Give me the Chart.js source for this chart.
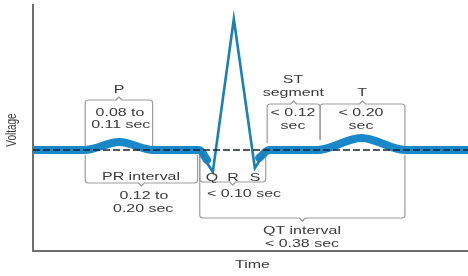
<!DOCTYPE html>
<html>
<head>
<meta charset="utf-8">
<script src="https://cdn.jsdelivr.net/npm/chart.js@4/dist/chart.umd.min.js"></script>
<style>
  html, body { margin: 0; padding: 0; background: #ffffff; }
  #wrap { width: 468px; height: 276px; }
</style>
</head>
<body>
<div id="wrap"><canvas id="c" width="468" height="276"></canvas></div>
<script>
// ---- data (time in s, voltage in arbitrary units, baseline = 0) ----
const atrialTime = [0, 0.071, 0.119, 0.166, 0.229, 0.240];
const atrialVolt = [0, 0, 0.08, 0, 0, -0.10];
const qrsTime = [0.229, 0.248, 0.277, 0.306, 0.322];
const qrsVolt = [0, -0.22, 1.31, -0.18, 0];
const ventTime = [0.312, 0.326, 0.392, 0.453, 0.514, 0.6];
const ventVolt = [-0.08, 0, 0, 0.12, 0, 0];
const baselineTime = [0, 0.6];
const baselineVolt = [0, 0];

// interval brackets (time spans)
const bracketNames = ['P', 'ST', 'T', 'PR', 'QRS', 'QT'];
const bracketStart = [0.072, 0.323, 0.396, 0.072, 0.230, 0.230];
const bracketEnd   = [0.165, 0.396, 0.513, 0.227, 0.321, 0.513];

// labels
const labelTexts = ['P', '0.08 to', '0.11 sec', 'ST', 'segment', 'T', '< 0.12', 'sec', '< 0.20', 'sec',
  'PR interval', '0.12 to', '0.20 sec', 'Q', 'R', 'S', '< 0.10 sec', 'QT interval', '< 0.38 sec'];
const xTitle = 'Time';
const yTitle = 'Voltage';

const pts = (t, v) => t.map((x, i) => ({ x: x, y: v[i] }));

// ---- layout of annotations (in data units) ----
const bracketLayout = {
  P:   { side: 'top',    level: 0.50, reach: [0.04, 0.04] },
  ST:  { side: 'top',    level: 0.46, reach: [0.07, 0.10] },
  T:   { side: 'top',    level: 0.46, reach: [0.10, 0.04] },
  PR:  { side: 'bottom', level: -0.33, reach: [-0.05, -0.05] },
  QRS: { side: 'bottom', level: -0.32, reach: [-0.05, -0.05] },
  QT:  { side: 'bottom', level: -0.68, reach: [-0.05, -0.05] }
};
const labelPos = [
  [0.1186, 0.60], [0.120, 0.37], [0.121, 0.25],
  [0.3586, 0.70], [0.359, 0.57], [0.4538, 0.57],
  [0.3586, 0.37], [0.3586, 0.24], [0.4524, 0.37], [0.4524, 0.24],
  [0.149, -0.27], [0.153, -0.46], [0.152, -0.59],
  [0.2469, -0.28], [0.2759, -0.28], [0.3062, -0.28],
  [0.291, -0.44], [0.371, -0.81], [0.371, -0.94]
];

const STRETCH = 1.45;
const FONT = '"Liberation Sans", Arial, Helvetica, sans-serif';

const annotate = {
  id: 'annotate',
  beforeDatasetsDraw(chart) {
    const ctx = chart.ctx, xs = chart.scales.x, ys = chart.scales.y;
    ctx.save();
    ctx.strokeStyle = '#9c9c9c';
    ctx.lineWidth = 1.2;
    ctx.lineJoin = 'round';
    const r = 3, n = 3;
    bracketNames.forEach((name, i) => {
      const L = bracketLayout[name];
      const x0 = xs.getPixelForValue(bracketStart[i]);
      const x1 = xs.getPixelForValue(bracketEnd[i]);
      const y = ys.getPixelForValue(L.level);
      const ya = ys.getPixelForValue(L.reach[0]);
      const yb = ys.getPixelForValue(L.reach[1]);
      const cx = (x0 + x1) / 2;
      const dir = L.side === 'top' ? -1 : 1;
      ctx.beginPath();
      ctx.moveTo(x0, ya);
      ctx.lineTo(x0, y - dir * r);
      ctx.quadraticCurveTo(x0, y, x0 + r, y);
      ctx.lineTo(cx - n, y);
      ctx.lineTo(cx, y + dir * n);
      ctx.lineTo(cx + n, y);
      ctx.lineTo(x1 - r, y);
      ctx.quadraticCurveTo(x1, y, x1, y - dir * r);
      ctx.lineTo(x1, yb);
      ctx.stroke();
    });
    ctx.restore();
  },
  afterDraw(chart) {
    const ctx = chart.ctx, xs = chart.scales.x, ys = chart.scales.y;
    ctx.save();
    ctx.fillStyle = '#3a3a3a';
    ctx.textAlign = 'center';
    ctx.textBaseline = 'middle';
    ctx.font = '11px ' + FONT;
    labelTexts.forEach((t, i) => {
      const px = xs.getPixelForValue(labelPos[i][0]);
      const py = ys.getPixelForValue(labelPos[i][1]);
      ctx.save();
      ctx.translate(px, py);
      ctx.scale(STRETCH, 1);
      ctx.fillText(t, 0, 0);
      ctx.restore();
    });
    // axis titles
    ctx.save();
    ctx.translate((xs.left + xs.right) / 2 + 2, chart.chartArea.bottom + 14);
    ctx.scale(STRETCH, 1);
    ctx.fillText(xTitle, 0, 0);
    ctx.restore();
    ctx.save();
    ctx.translate(12, (ys.top + ys.bottom) / 2 + 2);
    ctx.rotate(-Math.PI / 2);
    ctx.scale(1, STRETCH);
    ctx.font = '10px ' + FONT;
    ctx.fillText(yTitle, 0, 0);
    ctx.restore();
    ctx.restore();
  }
};

new Chart(document.getElementById('c'), {
  type: 'line',
  data: {
    datasets: [
      { label: 'baseline', data: pts(baselineTime, baselineVolt), borderColor: '#1c2233',
        borderWidth: 1.5, borderDash: [7, 3], pointRadius: 0, tension: 0 },
      { label: 'QRS', data: pts(qrsTime, qrsVolt), borderColor: '#1f7fae',
        borderWidth: 2.6, pointRadius: 0, tension: 0, borderJoinStyle: 'miter' },
      { label: 'atrial', data: pts(atrialTime, atrialVolt), borderColor: '#1a87c8',
        borderWidth: 8, pointRadius: 0, cubicInterpolationMode: 'monotone', borderCapStyle: 'round' },
      { label: 'ventricular', data: pts(ventTime, ventVolt), borderColor: '#1a87c8',
        borderWidth: 8, pointRadius: 0, cubicInterpolationMode: 'monotone', borderCapStyle: 'round' }
    ]
  },
  options: {
    responsive: false,
    animation: false,
    devicePixelRatio: 1,
    layout: { padding: { left: 33, top: 5, right: 0, bottom: 25 } },
    plugins: { legend: { display: false }, tooltip: { enabled: false }, title: { display: false } },
    scales: {
      x: { type: 'linear', min: 0, max: 0.6,
        ticks: { display: false }, grid: { display: false, drawTicks: false },
        border: { display: true, color: '#6e6e6e', width: 2 } },
      y: { type: 'linear', min: -1.01, max: 1.45,
        ticks: { display: false }, grid: { display: false, drawTicks: false },
        border: { display: true, color: '#6e6e6e', width: 2 } }
    }
  },
  plugins: [annotate]
});
</script>
</body>
</html>
